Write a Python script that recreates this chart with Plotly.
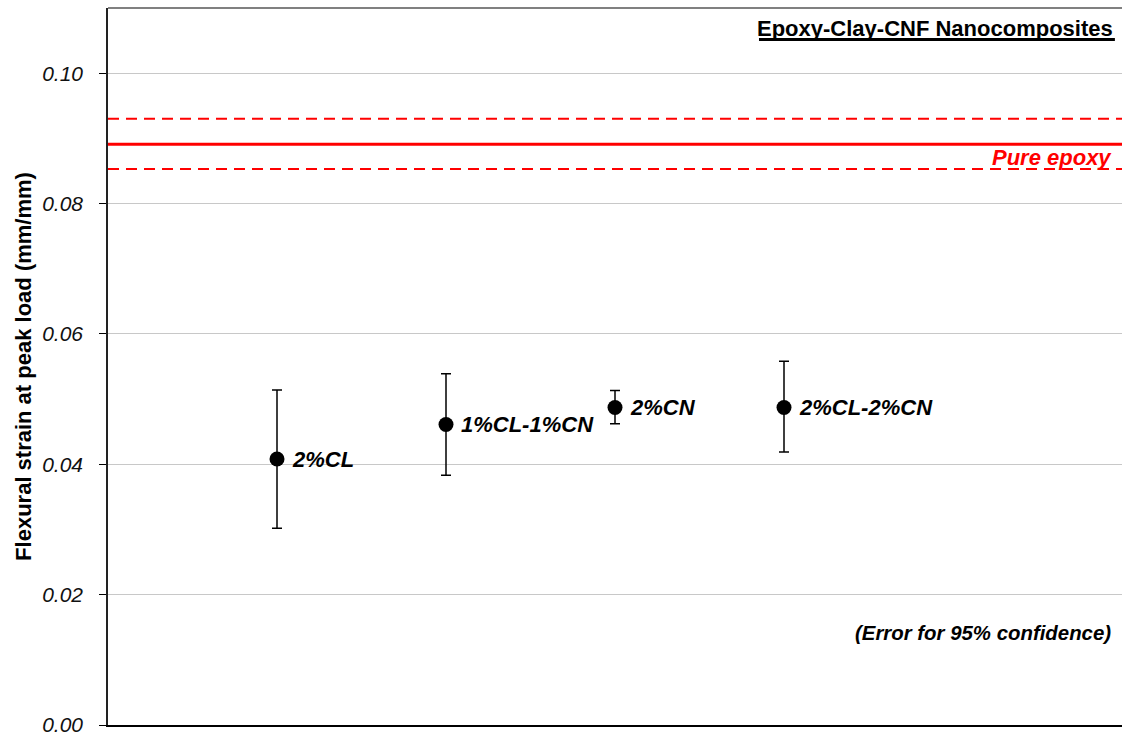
import plotly.graph_objects as go

# Flexural strain at peak load for epoxy nanocomposites (95% confidence errors)
samples = ["2%CL", "1%CL-1%CN", "2%CN", "2%CL-2%CN"]
positions = [1, 2, 3, 4]
strain = [0.0408, 0.0461, 0.0487, 0.0487]
err_plus = [0.0106, 0.0078, 0.0026, 0.0071]
err_minus = [0.0106, 0.0078, 0.0025, 0.0068]

# Pure epoxy reference band
pure_mean = 0.0891
pure_upper = 0.0930
pure_lower = 0.0853

y_ticks = [0.00, 0.02, 0.04, 0.06, 0.08, 0.10]
y_ticktext = ["0.00", "0.02", "0.04", "0.06", "0.08", "0.10"]

FONT = "Liberation Sans, Arial, Helvetica, sans-serif"

fig = go.Figure()

# Pure epoxy mean and confidence limits
fig.add_trace(go.Scatter(
    x=[0, 6], y=[pure_mean, pure_mean], mode="lines",
    line=dict(color="#ff0000", width=3), hoverinfo="skip", showlegend=False))
for lim in (pure_upper, pure_lower):
    fig.add_trace(go.Scatter(
        x=[0, 6], y=[lim, lim], mode="lines",
        line=dict(color="#ff0000", width=2, dash="11px,7px"),
        hoverinfo="skip", showlegend=False))

fig.add_trace(go.Scatter(
    x=positions, y=strain, mode="markers",
    marker=dict(color="black", size=15),
    error_y=dict(type="data", symmetric=False, array=err_plus,
                 arrayminus=err_minus, color="black", thickness=1.5, width=5),
    showlegend=False))

for xp, yv, name in zip(positions, strain, samples):
    fig.add_annotation(
        x=xp, y=yv, text=f"<b><i>{name}</i></b>", showarrow=False,
        xanchor="left", yanchor="middle", xshift=13,
        font=dict(family=FONT, size=22, color="black"))

fig.add_annotation(
    x=1, xref="paper", y=pure_mean, yref="y", text="<b><i>Pure epoxy</i></b>",
    showarrow=False, xanchor="right", yanchor="middle", xshift=-8, yshift=-13,
    font=dict(family=FONT, size=22, color="#ff0000"))

fig.add_annotation(
    x=1, xref="paper", y=1, yref="paper",
    text="<b>Epoxy-Clay-CNF Nanocomposites</b>",
    showarrow=False, xanchor="right", yanchor="middle", xshift=-7, yshift=-20,
    font=dict(family=FONT, size=22, color="black"))

# heavy underline beneath the heading
fig.add_shape(type="line", xref="paper", yref="paper",
              x0=0.642, x1=0.993, y0=0.956, y1=0.956,
              line=dict(color="black", width=3))

fig.add_annotation(
    x=1, xref="paper", y=0, yref="paper",
    text="<b><i>(Error for 95% confidence)</i></b>",
    showarrow=False, xanchor="right", yanchor="middle", xshift=-9, yshift=92,
    font=dict(family=FONT, size=20.4, color="black"))

# top frame line of the plot area
fig.add_shape(type="line", xref="paper", yref="paper", x0=0, x1=1, y0=1, y1=1,
              line=dict(color="#808080", width=2))

fig.update_layout(
    width=1122, height=738,
    margin=dict(l=108, r=0, t=8, b=13),
    paper_bgcolor="white", plot_bgcolor="white",
    font=dict(family=FONT),
    xaxis=dict(range=[0, 6], showticklabels=False, ticks="", showgrid=False,
               zeroline=False, showline=True, linecolor="black", linewidth=1.5),
    yaxis=dict(range=[0, 0.11], tickvals=y_ticks, ticktext=y_ticktext,
               ticks="outside", ticklen=7, tickcolor="black", tickwidth=1,
               ticklabelstandoff=12,
               tickfont=dict(family=FONT, size=21, color="#111", style="italic"),
               showgrid=True, gridcolor="#c8c8c8", gridwidth=1,
               zeroline=False, showline=True, linecolor="#222", linewidth=1.5,
               title=dict(text="<b>Flexural strain at peak load (mm/mm)</b>",
                          font=dict(family=FONT, size=22, color="black"),
                          standoff=4)),
)

fig.write_html("out.html")
